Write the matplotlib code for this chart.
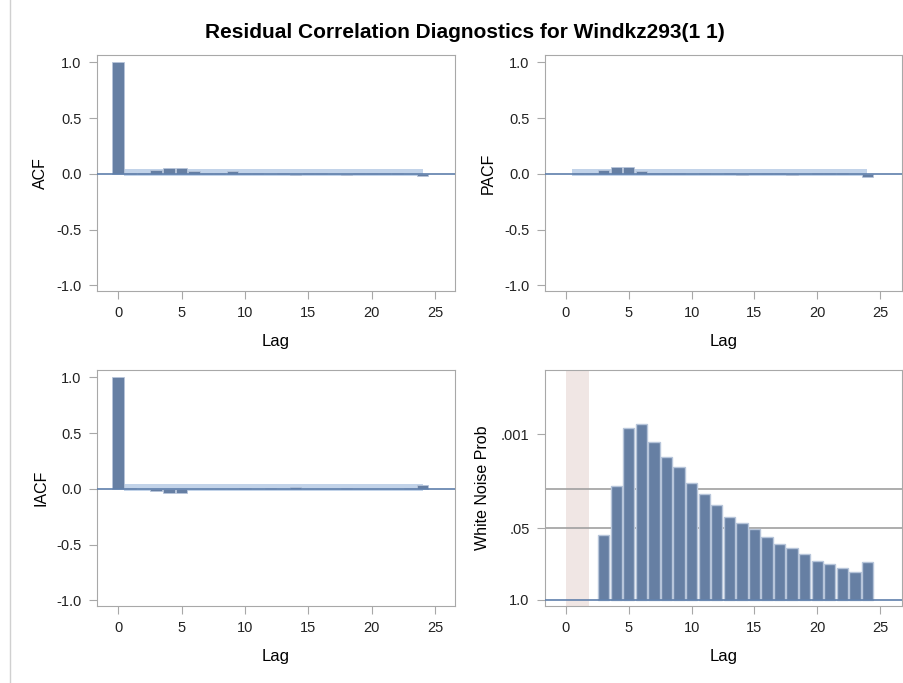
import numpy as np
import matplotlib.pyplot as plt
from matplotlib.lines import Line2D

plt.rcParams["font.family"] = ["Liberation Sans", "DejaVu Sans"]

# 数据
lags = np.arange(0, 25)
acf = [1.0, 0.005, 0.005, 0.036, 0.054, 0.054, 0.027, 0.008, 0.008, 0.028, 0.008, 0.008, 0.0,
       0.008, -0.01, 0.008, 0.008, 0.0, -0.01, 0.008, 0.008, 0.008, 0.008, 0.0, -0.024]
pacf = [0.005, 0.01, 0.036, 0.058, 0.058, 0.025, 0.005, 0.005, 0.005, 0.0, 0.008, 0.0,
        0.005, -0.01, 0.005, 0.005, 0.005, -0.01, 0.0, 0.005, 0.005, 0.005, 0.0, -0.025]
iacf = [1.0, 0.005, 0.0, -0.02, -0.04, -0.04, -0.005, 0.0, 0.0, 0.0, 0.005, 0.0, 0.005,
        0.0, 0.02, 0.0, 0.0, 0.0, 0.005, 0.0, 0.0, -0.005, 0.0, 0.005, 0.035]
band_upper = 0.04
band_lower = -0.02

wn_lags = np.arange(3, 25)
wn_logp = [1.175, 2.07, 3.12, 3.19, 2.86, 2.58, 2.40, 2.12, 1.92, 1.71, 1.50, 1.40,
           1.28, 1.14, 1.01, 0.94, 0.83, 0.71, 0.65, 0.58, 0.50, 0.68]  # -log10(p)
wn_ticks = [1.0, 0.05, 0.001]
wn_ticklabels = ["1.0", ".05", ".001"]
wn_ref = [0.05, 0.01]

bar_color = "#667fa3"
edge_color = "#b7c5da"
band_color = "#b3c8e4"
zero_color = "#5f7fab"
frame_color = "#a8a8a8"

fig = plt.figure(figsize=(9.04, 6.83), dpi=100)
fig.text(0.514, 0.953, "Residual Correlation Diagnostics for Windkz293(1 1)",
         ha="center", va="center", fontsize=15, fontweight="bold")
fig.add_artist(Line2D([0.011, 0.011], [0, 1], color="#d0d0d0", lw=1))


def style_axes(ax):
    for s in ax.spines.values():
        s.set_color(frame_color)
    ax.tick_params(colors=frame_color, labelcolor="#222222", labelsize=10.5,
                   length=6, pad=5)
    ax.set_xticks([0, 5, 10, 15, 20, 25])
    ax.set_xlabel("Lag", fontsize=12, labelpad=10)


def corr_panel(rect, x, y, ylabel, xlim):
    ax = fig.add_axes(rect)
    ax.fill_between([0.5, 24], band_lower, band_upper, color=band_color, alpha=0.8,
                    lw=0, zorder=1)
    ax.bar(x, y, width=0.9, color=bar_color, edgecolor=edge_color, lw=0.6, zorder=2)
    ax.axhline(0, color=zero_color, lw=1.2, zorder=3)
    ax.set_xlim(*xlim)
    ax.set_ylim(-1.05, 1.065)
    ax.set_yticks([-1.0, -0.5, 0.0, 0.5, 1.0])
    ax.set_yticklabels(["-1.0", "-0.5", "0.0", "0.5", "1.0"])
    ax.set_ylabel(ylabel, fontsize=11.5, labelpad=6)
    style_axes(ax)
    return ax


corr_panel([0.1073, 0.574, 0.396, 0.3455], lags, acf, "ACF", (-1.66, 26.55))
corr_panel([0.6029, 0.574, 0.3949, 0.3455], lags[1:], pacf, "PACF", (-1.67, 26.75))
corr_panel([0.1073, 0.1127, 0.396, 0.3455], lags, iacf, "IACF", (-1.66, 26.55))

# 白噪声检验
ax = fig.add_axes([0.6029, 0.1127, 0.3949, 0.3455])
ax.axvspan(0, 1.85, color="#f0e6e4", lw=0, zorder=0)
for p in wn_ref:
    ax.axhline(-np.log10(p), color="#a0a0a0", lw=1.2, zorder=1)
ax.bar(wn_lags, wn_logp, width=0.9, color=bar_color, edgecolor=edge_color, lw=1.0, zorder=2)
ax.axhline(0, color=zero_color, lw=1.2, zorder=3)
ax.set_xlim(-1.67, 26.75)
ax.set_ylim(-0.11, 4.16)
ax.set_yticks([-np.log10(t) for t in wn_ticks])
ax.set_yticklabels(wn_ticklabels)
ax.set_ylabel("White Noise Prob", fontsize=11.5, labelpad=8)
style_axes(ax)

fig.savefig("out.png", dpi=100)
